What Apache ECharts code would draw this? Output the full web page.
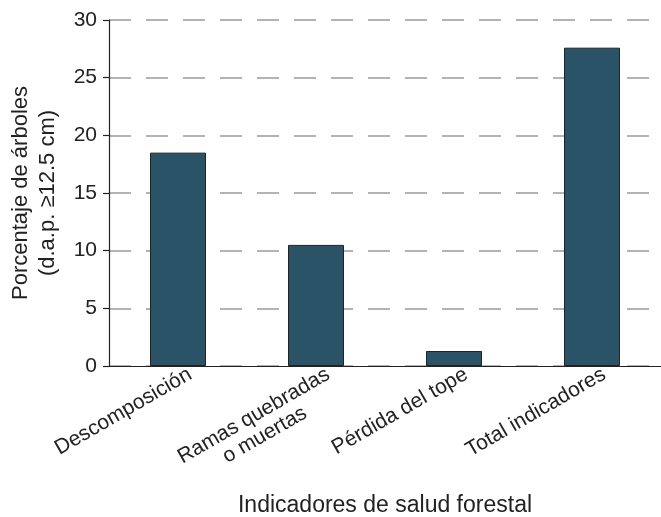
<!DOCTYPE html>
<html>
<head>
<meta charset="utf-8">
<script src="https://cdn.jsdelivr.net/npm/echarts@6/dist/echarts.min.js"></script>
<style>
html,body{margin:0;padding:0;background:#fff;}
#chart{width:661px;height:517px;}
</style>
</head>
<body>
<div id="chart"></div>
<script>
var categories = ['Descomposición', 'Ramas quebradas\no muertas', 'Pérdida del tope', 'Total indicadores'];
var values = [18.5, 10.5, 1.3, 27.6];
var yTicks = [0, 5, 10, 15, 20, 25, 30];

var FONT = '"Liberation Sans", Arial, Helvetica, sans-serif';
var chart = echarts.init(document.getElementById('chart'), null, {renderer: 'canvas'});
chart.setOption({
  animation: false,
  backgroundColor: '#ffffff',
  grid: {left: 109, right: 0, top: 20, bottom: 151, containLabel: false, outerBoundsMode: 'none'},
  xAxis: {
    type: 'category',
    data: categories,
    boundaryGap: true,
    name: 'Indicadores de salud forestal',
    nameLocation: 'middle',
    nameGap: 128,
    nameTextStyle: {fontFamily: FONT, fontSize: 23, color: '#222'},
    axisLine: {show: true, lineStyle: {color: '#222', width: 1.2}},
    axisTick: {show: false},
    axisLabel: {
      rotate: 30,
      interval: 0,
      margin: 14,
      padding: [0, -14, 0, 0],
      fontFamily: FONT,
      fontSize: 21,
      color: '#222',
      lineHeight: 22,
      formatter: function (v) {
        var lines = v.split('\n');
        if (lines.length > 1) { lines.unshift(' '); }
        return lines.map(function (s) { return '{c|' + s + '}'; }).join('\n');
      },
      rich: {c: {align: 'center', fontFamily: FONT, fontSize: 21, color: '#222', lineHeight: 22}}
    },
    splitLine: {show: false}
  },
  yAxis: {
    type: 'value',
    min: 0,
    max: 30,
    interval: 5,
    name: 'Porcentaje de árboles\n(d.a.p. ≥12.5 cm)',
    nameLocation: 'middle',
    nameGap: 48,
    nameRotate: 90,
    nameTextStyle: {fontFamily: FONT, fontSize: 22, color: '#222', lineHeight: 27, align: 'center'},
    axisLine: {show: true, lineStyle: {color: '#222', width: 1.2}},
    axisTick: {show: true, inside: false, length: 6, lineStyle: {color: '#222', width: 1.2}},
    axisLabel: {
      margin: 12,
      fontFamily: FONT,
      fontSize: 21,
      color: '#222',
      formatter: function (v) { return yTicks.indexOf(v) >= 0 ? String(v) : ''; }
    },
    splitLine: {show: true, lineStyle: {color: '#9a9a9a', width: 1.5, type: [22, 15]}}
  },
  series: [{
    type: 'bar',
    data: values,
    barWidth: 56,
    itemStyle: {color: '#2b5367', borderColor: '#222', borderWidth: 1},
    z: 3
  }]
});
</script>
</body>
</html>
